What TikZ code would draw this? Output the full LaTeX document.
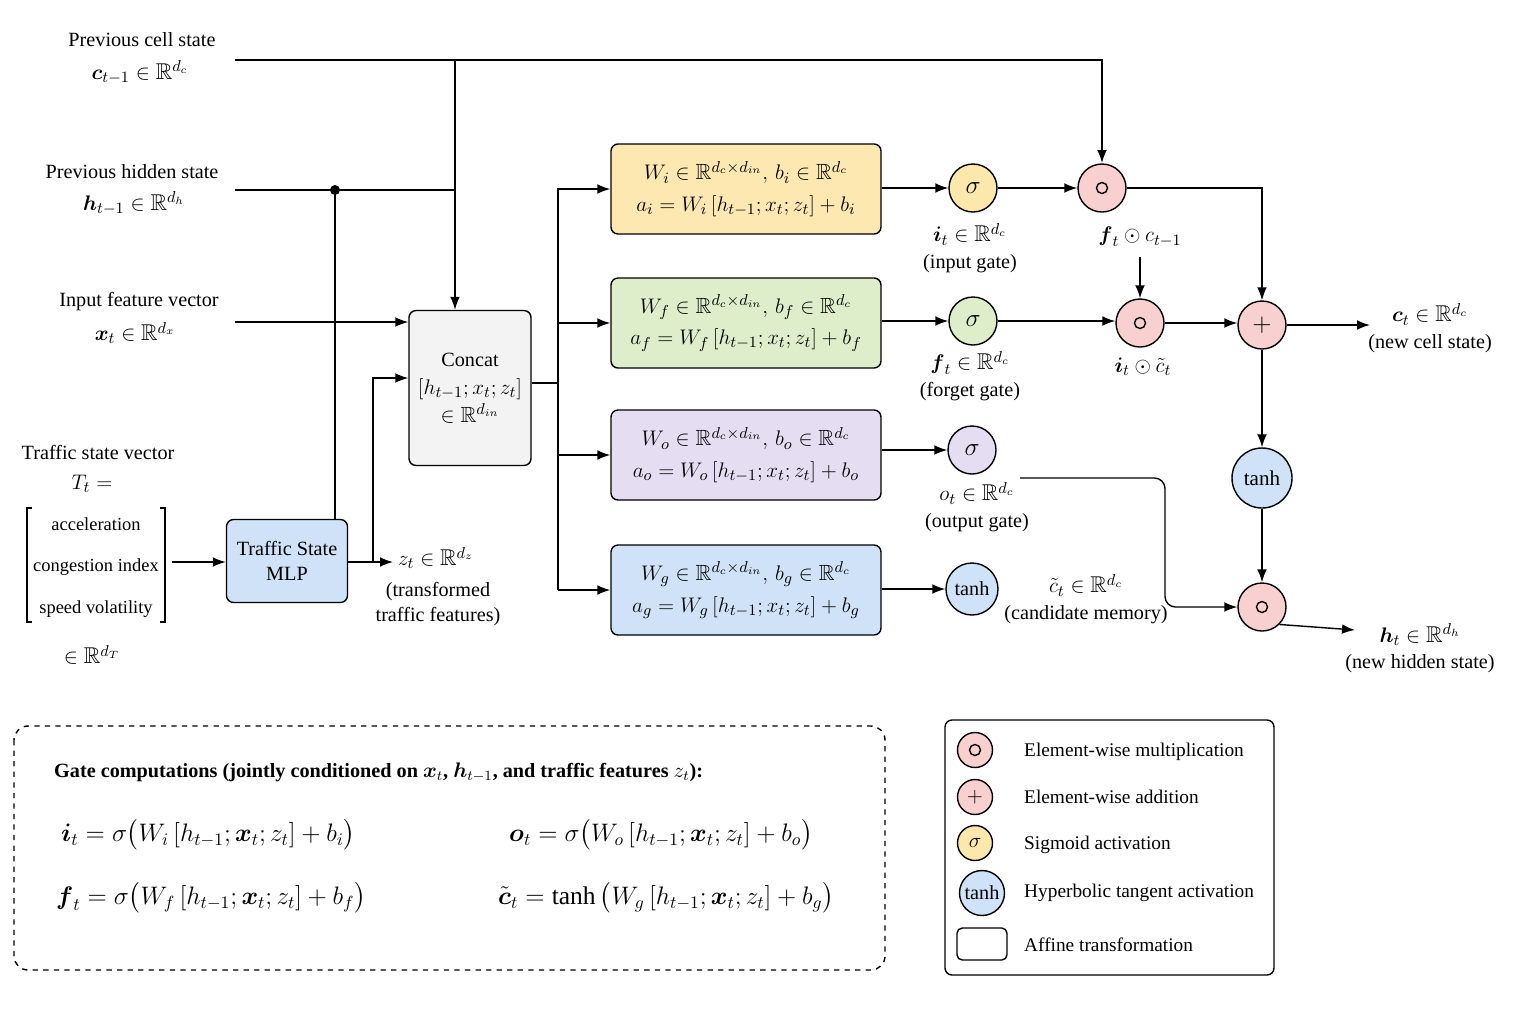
\documentclass[tikz,border=0pt]{standalone}
\usepackage{amssymb}
\usepackage{amsmath}
\usepackage{fontspec}
\setmainfont{Liberation Serif}
\usetikzlibrary{arrows.meta,positioning}
\definecolor{cyel}{RGB}{253,232,178}
\definecolor{cgrn}{RGB}{222,238,203}
\definecolor{cpur}{RGB}{229,221,242}
\definecolor{cblu}{RGB}{207,226,247}
\definecolor{cgry}{RGB}{243,243,243}
\definecolor{cpnk}{RGB}{249,208,208}
\definecolor{csig}{RGB}{251,232,170}
\tikzset{%
  box/.style={draw,rounded corners=4pt,thick,fill=#1,minimum width=54mm,minimum height=18mm,align=center,font=\fontsize{12.5}{15}\selectfont},
  box/.default=white,
  op/.style={circle,draw,thick,fill=#1,minimum size=9.6mm,inner sep=0pt},
  op/.default=cpnk,
  arr/.style={-{Latex[length=2.6mm]},thick},
  ln/.style={thick},
  lbl/.style={align=center},
  mth/.style={font=\fontsize{13}{15}\selectfont}
}
\newcommand{\bx}{\boldsymbol{x}}
\newcommand{\Rd}[1]{\mathbb{R}^{#1}}
\newcommand{\had}{\mathbin{\odot}}
\newcommand{\mulsym}{\tikz\draw[thick] (0,0) circle (1.1mm);}
\begin{document}
\begin{tikzpicture}[x=0.2mm,y=-0.2mm,font=\fontsize{11.5}{14}\selectfont]
  \useasboundingbox (0,0) rectangle (1536,1024);
  % inputs
  \node[lbl] (tc) at (142,40) {Previous cell state};
  \node[mth] (vc) at (140,72) {$\boldsymbol{c}_{t-1}\in\Rd{d_c}$};
  \node[lbl] (th) at (132,172) {Previous hidden state};
  \node[mth] (vh) at (134,203) {$\boldsymbol{h}_{t-1}\in\Rd{d_h}$};
  \node[lbl] (tx) at (139,302) {Input feature vector};
  \node[mth] (vx) at (135,333) {$\bx_t\in\Rd{d_x}$};
  \node (tt) at (98,452) {Traffic state vector};
  \node[mth] (tT) at (92,484) {$T_t=$};
  \node[font=\fontsize{10.5}{12}\selectfont] (ta) at (96,524) {acceleration};
  \node[font=\fontsize{10.5}{12}\selectfont] (tg) at (96,567) {congestion index};
  \node[font=\fontsize{10.5}{12}\selectfont] (tv) at (96,609) {speed volatility};
  \node[mth] (tR) at (92,655) {$\in\Rd{d_T}$};
  \draw[thick] (32,508) -- (27,508) -- (27,622) -- (32,622);
  \draw[thick] (160,508) -- (165,508) -- (165,622) -- (160,622);
  \coordinate (cin) at (235,60);
  \coordinate (hin) at (235,190);
  \coordinate (xin) at (235,322);
  \coordinate (tin) at (172,562);
  % concat and mlp
  \node[draw,thick,rounded corners=4pt,fill=cgry,minimum width=24.4mm,minimum height=31mm,align=center] (cat) at (470,388)
    {Concat\\[2pt]{\fontsize{12.5}{15}\selectfont$[h_{t-1};x_t;z_t]$}\\[2pt]{\fontsize{12.5}{15}\selectfont$\in\Rd{d_{in}}$}};
  \node[draw,thick,rounded corners=4pt,fill=cblu,minimum width=24.2mm,minimum height=16.6mm,align=center] (mlp) at (287,561)
    {Traffic State\\MLP};
  \fill (335,190) circle (5);
  \draw[ln] (hin) -- (455,190);
  \draw[ln] (335,190) -- (mlp.north -| 335,0);
  \draw[arr] (cin) -| (1102,163);
  \draw[arr] (455,60) -- (cat.north -| 455,0);
  \draw[arr] (xin) -- (xin -| cat.west);
  \draw[arr] (tin) -- (tin -| mlp.west);
  \coordinate (zout) at (393,562);
  \draw[arr] (mlp.east |- 0,562) -- (zout);
  \node[anchor=west,inner sep=1pt,mth] (zl) at (396,558) {$z_t\in\Rd{d_z}$};
  \node[lbl] (zt) at (438,604) {(transformed\\traffic features)};
  \draw[arr] (373,562) |- (cat.west |- 0,378);
  % gate boxes
  \node[box=cyel] (gi) at (746,189) {$W_i\in\Rd{d_c\times d_{in}},\,b_i\in\Rd{d_c}$\\[3pt]$a_i=W_i\,[h_{t-1};x_t;z_t]+b_i$};
  \node[box=cgrn] (gf) at (746,323) {$W_f\in\Rd{d_c\times d_{in}},\,b_f\in\Rd{d_c}$\\[3pt]$a_f=W_f\,[h_{t-1};x_t;z_t]+b_f$};
  \node[box=cpur] (go) at (746,455) {$W_o\in\Rd{d_c\times d_{in}},\,b_o\in\Rd{d_c}$\\[3pt]$a_o=W_o\,[h_{t-1};x_t;z_t]+b_o$};
  \node[box=cblu] (gg) at (746,590) {$W_g\in\Rd{d_c\times d_{in}},\,b_g\in\Rd{d_c}$\\[3pt]$a_g=W_g\,[h_{t-1};x_t;z_t]+b_g$};
  \draw[ln] (cat.east |- 0,383) -- (558,383);
  \draw[ln] (558,188) -- (558,590);
  \foreach \g in {gi,gf,go,gg}
    \draw[arr] (558,0 |- \g.west) -- (\g.west);
  % activations
  \node[op=csig] (si) at (973,188) {\Large$\sigma$};
  \node[op=cgrn] (sf) at (973,321) {\Large$\sigma$};
  \node[op=cpur] (so) at (972,450) {\Large$\sigma$};
  \node[op=cblu,minimum size=10.4mm] (sg) at (972,589) {tanh};
  \draw[arr] (gi.east |- si) -- (si);
  \draw[arr] (gf.east |- sf) -- (sf);
  \draw[arr] (go.east |- so) -- (so);
  \draw[arr] (gg.east |- sg) -- (sg);
  \node[lbl,mth] (li) at (970,248) {$\boldsymbol{i}_t\in\Rd{d_c}$\\{\fontsize{11.5}{14}\selectfont(input gate)}};
  \node[lbl,mth] (lf) at (970,376) {$\boldsymbol{f}_t\in\Rd{d_c}$\\{\fontsize{11.5}{14}\selectfont(forget gate)}};
  \node[lbl,mth] (lo) at (977,507) {$o_t\in\Rd{d_c}$\\{\fontsize{11.5}{14}\selectfont(output gate)}};
  \node[lbl,mth] (lg) at (1086,599) {$\tilde{c}_t\in\Rd{d_c}$\\{\fontsize{11.5}{14}\selectfont(candidate memory)}};
  % cell update
  \node[op] (m1) at (1102,188) {\mulsym};
  \node[op] (m2) at (1140,323) {\mulsym};
  \node[op] (ad) at (1262,325) {\Large$+$};
  \node[op=cblu,minimum size=12mm] (th2) at (1262,478) {\large tanh};
  \node[op] (m3) at (1262,607) {\mulsym};
  \node[mth] (l1) at (1140,237) {$\boldsymbol{f}_t\had c_{t-1}$};
  \node[mth] (l2) at (1143,367) {$\boldsymbol{i}_t\had\tilde{c}_t$};
  \draw[arr] (si) -- (m1);
  \draw[arr] (sf) -- (sf -| m2.west);
  \draw[arr] (1140,257) -- (m2);
  \draw[arr] (m1) -| (ad);
  \draw[arr] (m2) -- (m2 -| ad.west);
  \coordinate (cout) at (1370,325);
  \draw[arr] (ad) -- (cout);
  \node[lbl,mth] (lc) at (1430,328) {$\boldsymbol{c}_t\in\Rd{d_c}$\\{\fontsize{11.5}{14}\selectfont(new cell state)}};
  \draw[arr] (ad) -- (th2);
  \draw[arr] (th2) -- (m3);
  \draw[arr,rounded corners=6pt] (1020,478) -- (1165,478) -- (1165,607) -- (m3.west);
  \coordinate (hout) at (1355,630);
  \draw[arr] (m3.south east) -- (hout);
  \node[lbl,mth] (lh) at (1420,648) {$\boldsymbol{h}_t\in\Rd{d_h}$\\{\fontsize{11.5}{14}\selectfont(new hidden state)}};
  % gate equations
  \draw[thick,dashed,rounded corners=8pt] (14,726) rectangle (885,970);
  \node[anchor=west] (eqt) at (48,772) {\textbf{Gate computations (jointly conditioned on $\bx_t$, $\boldsymbol{h}_{t-1}$, and traffic features $z_t$):}};
  \node[anchor=west,font=\fontsize{14.5}{17}\selectfont] (eq1) at (55,835) {$\boldsymbol{i}_t=\sigma\big(W_i\,[h_{t-1};\bx_t;z_t]+b_i\big)$};
  \node[anchor=west,font=\fontsize{14.5}{17}\selectfont] (eq2) at (503,835) {$\boldsymbol{o}_t=\sigma\big(W_o\,[h_{t-1};\bx_t;z_t]+b_o\big)$};
  \node[anchor=west,font=\fontsize{14.5}{17}\selectfont] (eq3) at (50,898) {$\boldsymbol{f}_t=\sigma\big(W_f\,[h_{t-1};\bx_t;z_t]+b_f\big)$};
  \node[anchor=west,font=\fontsize{14.5}{17}\selectfont] (eq4) at (492,898) {$\tilde{\boldsymbol{c}}_t=\tanh\big(W_g\,[h_{t-1};\bx_t;z_t]+b_g\big)$};
  % legend
  \draw[thick,rounded corners=4pt] (945,720) rectangle (1274,975);
  \node[op,minimum size=7mm] (k1) at (975,750) {\mulsym};
  \node[op,minimum size=7mm] (k2) at (975,797) {\large$+$};
  \node[op=csig,minimum size=7mm] (k3) at (975,843) {$\sigma$};
  \node[op=cblu,minimum size=9mm] (k4) at (982,893) {tanh};
  \node[draw,thick,rounded corners=3pt,minimum width=10mm,minimum height=6.4mm] (k5) at (982,944) {};
  \node[anchor=west,font=\fontsize{11}{13}\selectfont] at (1018,752) {Element-wise multiplication};
  \node[anchor=west,font=\fontsize{11}{13}\selectfont] at (1018,797) {Element-wise addition};
  \node[anchor=west,font=\fontsize{11}{13}\selectfont] at (1018,845) {Sigmoid activation};
  \node[anchor=west,font=\fontsize{11}{13}\selectfont] at (1018,893) {Hyperbolic tangent activation};
  \node[anchor=west,font=\fontsize{11}{13}\selectfont] at (1018,945) {Affine transformation};
\end{tikzpicture}
\end{document}
